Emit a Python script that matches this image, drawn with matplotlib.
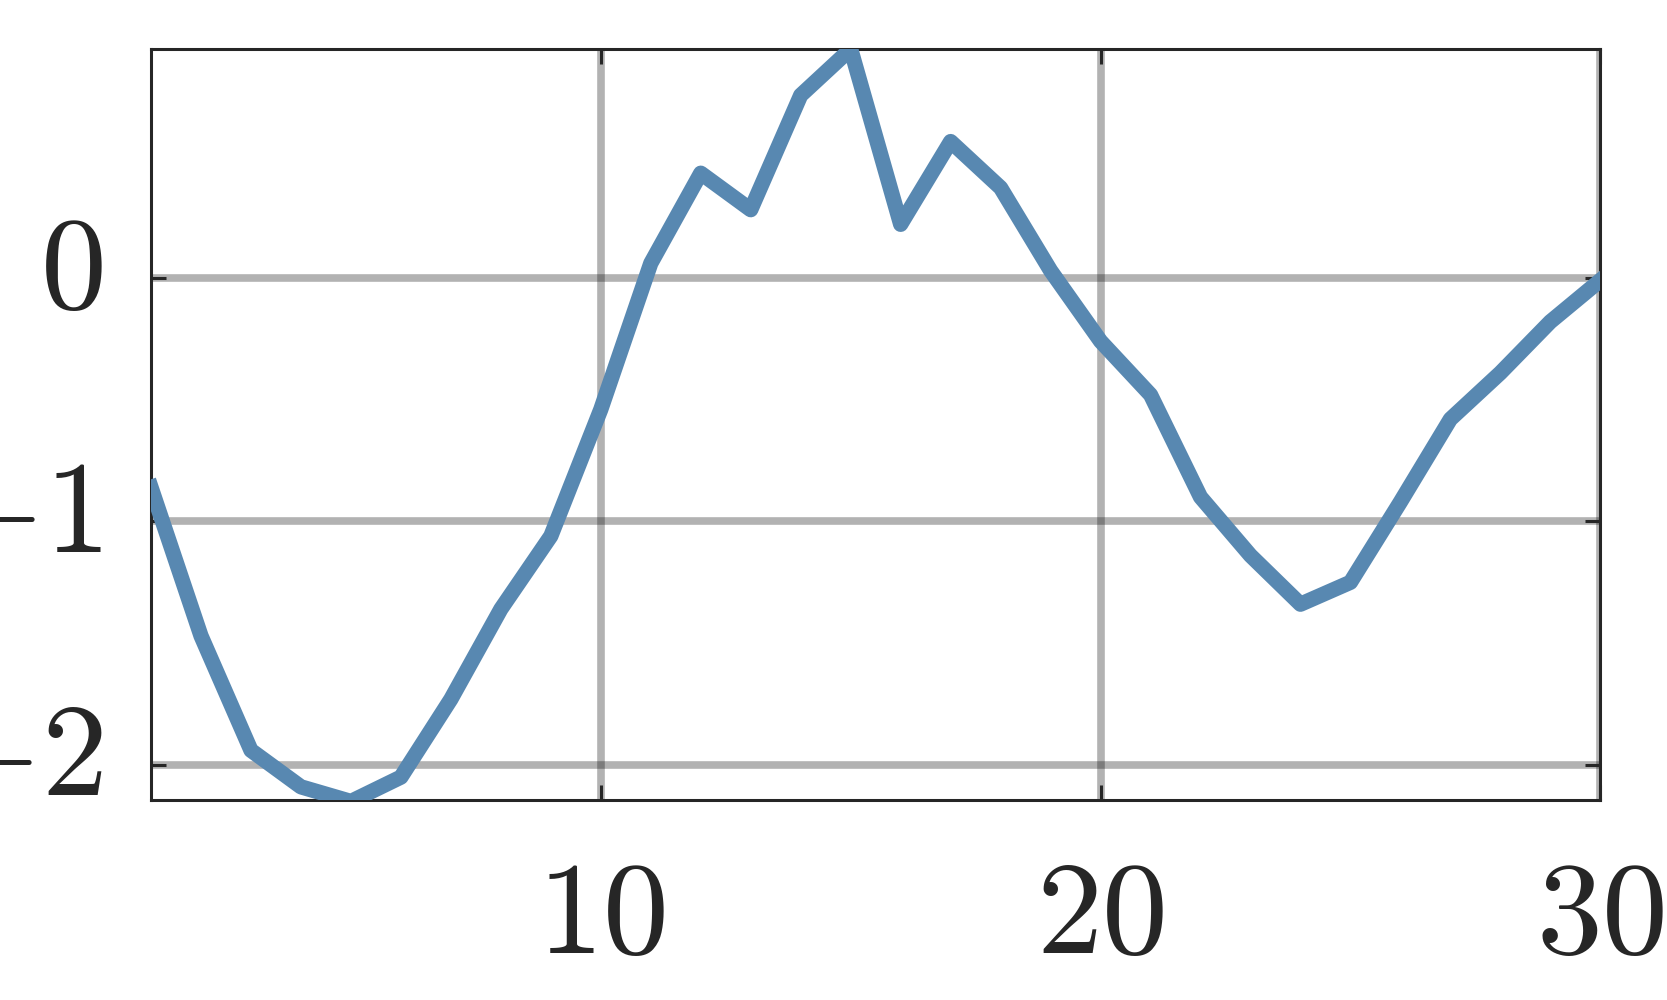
import numpy as np
import matplotlib
matplotlib.use("Agg")
from matplotlib import pyplot as plt
from matplotlib.transforms import ScaledTranslation

plt.rcParams['mathtext.fontset'] = 'cm'

x = np.arange(1, 31)
y = [-0.86, -1.47, -1.94, -2.09, -2.15, -2.05, -1.73, -1.36, -1.06, -0.54,
     0.06, 0.43, 0.28, 0.75, 0.94, 0.22, 0.56, 0.37, 0.03, -0.26,
     -0.48, -0.90, -1.14, -1.34, -1.25, -0.92, -0.58, -0.39, -0.18, -0.01]
xticks = [10, 20, 30]
yticks = [-2, -1, 0]

fig = plt.figure(figsize=(16.67, 10), dpi=100)
ax = fig.add_axes([0.0906, 0.200, 0.8694, 0.751])

ax.plot(x, y, color='#5888b1', lw=11, zorder=3)

ax.set_xlim(1, 30)
ax.set_ylim(-2.144, 0.94)
ax.set_xticks(xticks)
ax.set_yticks(yticks)
ax.set_xticklabels([r'$%d$' % t for t in xticks])
ax.set_yticklabels([r'$%d$' % t for t in yticks])

ax.grid(True, color='k', alpha=0.3, lw=5.5)
ax.set_axisbelow(True)
for s in ax.spines.values():
    s.set_color('#262626')
    s.set_linewidth(2.2)
ax.tick_params(direction='in', length=11, width=2.2, color='#262626',
               labelcolor='#262626', labelsize=95,
               top=True, right=True)
ax.tick_params(axis='y', pad=35)
ax.tick_params(axis='x', pad=38)

# labels sit a bit higher than the ticks in the original
up = ScaledTranslation(0, 14 / 72, fig.dpi_scale_trans)
for lab in ax.get_yticklabels():
    lab.set_transform(lab.get_transform() + up)

fig.savefig('out.png', dpi=100)
